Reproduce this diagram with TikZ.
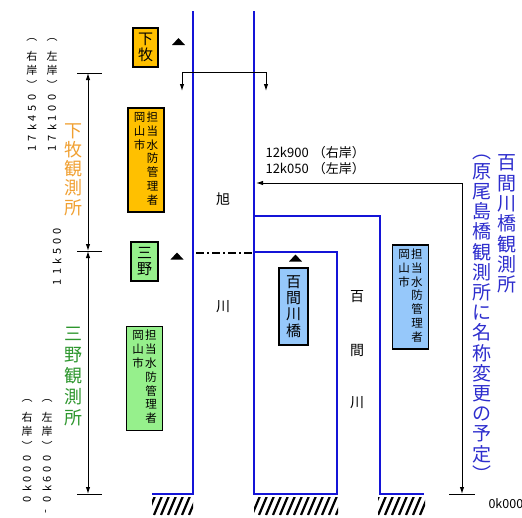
\documentclass[tikz,border=0pt]{standalone}
\usepackage{fontspec}
\setmainfont{Noto Sans CJK JP}
\usetikzlibrary{arrows.meta, positioning}

\definecolor{kawablue}{RGB}{20,20,215}
\definecolor{shimomakifill}{RGB}{255,192,0}
\definecolor{minofill}{RGB}{150,240,140}
\definecolor{hyakkenfill}{RGB}{150,200,250}
\definecolor{shimomakitext}{RGB}{240,160,50}
\definecolor{minotext}{RGB}{45,150,45}
\definecolor{hyakkentext}{RGB}{45,45,205}

\newcommand{\yoko}[1]{\rotatebox[origin=c]{90}{#1}}
\newcommand{\kanrisha}{\begin{tabular}{@{}c@{\hspace{1.5pt}}c@{}}岡&担\\山&当\\市&水\\&防\\&管\\&理\\&者\end{tabular}}
\newcommand{\sankaku}[1]{\fill (#1) ++(-6.5,3) -- ++(13,0) -- ++(-6.5,-7) -- cycle;}
\newcommand{\kyorifont}{\fontsize{11}{10.2}\selectfont\setlength{\lineskiplimit}{-20pt}}
\newcommand{\harafont}{\fontsize{19}{20.2}\selectfont\setlength{\lineskiplimit}{-20pt}}
% (右岸) part of the kilometre labels
\newcommand{\kishi}[1]{\rule{0pt}{8pt}︵\\[9.9pt]#1\\[3.8pt]岸\\[5.3pt]︶\\[1.7pt]}

\tikzset{
  bank/.style={kawablue, line width=2.6pt},
  dimline/.style={line width=1pt},
  hatch/.style={line width=2.2pt},
  kijun/.style={draw, line width=1.3pt, inner sep=0pt, align=center},
  kanri/.style={kijun, minimum width=36pt, minimum height=104pt, font={\fontsize{11.5}{13.7}\selectfont}},
  tate/.style={align=center, inner sep=0pt},
  kyori/.style={tate, font=\kyorifont},
}

\begin{document}
\begin{tikzpicture}[x=1pt, y=-1pt, >={Latex[length=7pt,width=4.5pt]}]
  \useasboundingbox (0,0) rectangle (522,517);

  % Hatching
  \begin{scope}
    \clip (152,497) rectangle (193,515) (254,497) rectangle (338,515) (378,497) rectangle (425,515);
    \foreach \x in {140,147,...,430}
      \draw[hatch] (\x,515) -- ++(8,-19);
  \end{scope}

  % Rivers
  \draw[bank] (193,11) -- (193,494) -- (152,494);
  \draw[bank] (254,11) -- (254,494) -- (337,494) -- (337,252) -- (254,252);
  \draw[bank] (254,216) -- (380,216) -- (380,494) -- (424,494);
  \draw[line width=1.8pt, dash pattern=on 8pt off 3pt on 2pt off 3pt] (196,253) -- (254,253);

  \node[font={\fontsize{14}{16}\selectfont}] (asahi1) at (223,199) {旭};
  \node[font={\fontsize{14}{16}\selectfont}] (asahi2) at (223,307) {川};
  \node[font={\fontsize{14}{16}\selectfont}] (hyakken1) at (357,297) {百};
  \node[font={\fontsize{14}{16}\selectfont}] (hyakken2) at (357,350) {間};
  \node[font={\fontsize{14}{16}\selectfont}] (hyakken3) at (357,403) {川};

  % Observatories
  \node[kijun, fill=shimomakifill, minimum width=25pt, minimum height=39pt, font={\fontsize{15}{16}\selectfont}] (shimomaki) at (145.5,47.5) {下\\牧};
  \node[kanri, fill=shimomakifill] (kanri1) at (146,160) {\kanrisha};
  \node[kijun, fill=minofill, minimum width=27pt, minimum height=39pt, font={\fontsize{15}{16}\selectfont}] (mino) at (144.5,261.5) {三\\野};
  \node[kanri, fill=minofill] (kanri2) at (144.5,378.5) {\kanrisha};
  \node[kijun, fill=hyakkenfill, minimum width=29pt, minimum height=77pt, font={\fontsize{15}{16.3}\selectfont}] (hyakkenbashi) at (293.5,306.5) {百\\間\\川\\橋};
  \node[kanri, fill=hyakkenfill] (kanri3) at (410.5,297) {\kanrisha};

  \coordinate (tri1) at (178.5,42);
  \coordinate (tri2) at (177,256.5);
  \coordinate (tri3) at (295.5,258.5);
  \sankaku{tri1}
  \sankaku{tri2}
  \sankaku{tri3}

  % Left dimension
  \coordinate (d1) at (88,73);
  \coordinate (d2) at (88,251);
  \coordinate (d3) at (88,494);
  \foreach \c in {d1,d2,d3}
    \draw[dimline] ([xshift=-11pt]\c) -- ([xshift=14pt]\c);
  \draw[dimline, <->] (d1) -- (d2);
  \draw[dimline, <->] (d2) -- (d3);

  \node[tate, font={\fontsize{18}{19.3}\selectfont}, text=shimomakitext] (shimomakikan) at (73,169.5) {下\\牧\\観\\測\\所};
  \node[tate, font={\fontsize{18}{21}\selectfont}, text=minotext] (minokan) at (73,376.5) {三\\野\\観\\測\\所};

  \node[kyori, anchor=north] (k17r) at (32,32) {\kishi{右}\yoko{0}\\\yoko{5}\\\yoko{4}\\\yoko{k}\\\yoko{7}\\\yoko{1}};
  \node[kyori, anchor=north] (k17l) at (52,32) {\kishi{左}\yoko{0}\\\yoko{0}\\\yoko{1}\\\yoko{k}\\\yoko{7}\\\yoko{1}};
  \node[kyori] (k11) at (57,257) {\yoko{0}\\\yoko{0}\\\yoko{5}\\\yoko{k}\\\yoko{1}\\\yoko{1}};
  \node[kyori, anchor=north] (k0r) at (27,393) {\kishi{右}\yoko{0}\\\yoko{0}\\\yoko{0}\\\yoko{k}\\\yoko{0}};
  \node[kyori, anchor=north] (k0l) at (47,393) {\kishi{左}\yoko{0}\\\yoko{0}\\\yoko{6}\\\yoko{k}\\\yoko{0}\\\yoko{-}};

  % Top arrows
  \coordinate (b1) at (182,72);
  \coordinate (b2) at (266,72);
  \draw[dimline, <->] ([yshift=-19pt]b1) -- (b1) -- (b2) -- ([yshift=-19pt]b2);

  % Right dimension
  \coordinate (c0) at (256,183);
  \coordinate (c1) at (462,183);
  \coordinate (c2) at (462,494);
  \draw[dimline, <->] (c0) -- (c1) -- (c2);
  \draw[dimline] ([xshift=-13pt]c2) -- ([xshift=13pt]c2);

  \node[anchor=west, font={\fontsize{13}{14}\selectfont}] (k12r) at (262,153) {12k900\hspace{4pt}（右岸）};
  \node[anchor=west, font={\fontsize{13}{14}\selectfont}] (k12l) at (262,169) {12k050\hspace{4pt}（左岸）};
  \node[anchor=west, font={\fontsize{12.5}{14}\selectfont}] (k0) at (485,504) {0k000};

  \node[tate, font={\fontsize{19}{20.3}\selectfont}, text=hyakkentext] (hyakkenkan) at (507,224) {百\\間\\川\\橋\\観\\測\\所};
  \node[tate, font=\harafont, text=hyakkentext] (haraojima) at (482,318) {︵\\原\\尾\\島\\橋\\観\\測\\所\\に\\名\\称\\変\\更\\の\\予\\定\\︶};
\end{tikzpicture}
\end{document}
